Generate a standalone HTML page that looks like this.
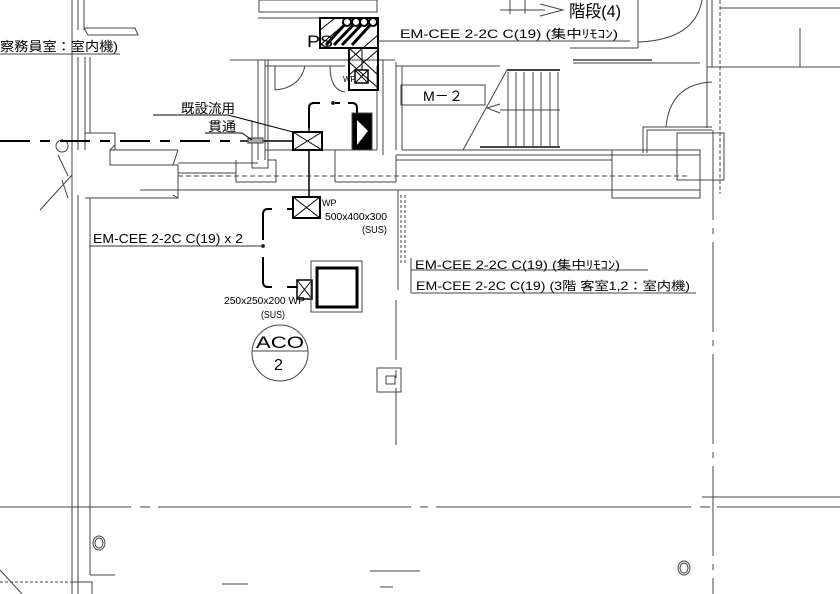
<!DOCTYPE html>
<html><head><meta charset="utf-8"><style>
html,body{margin:0;padding:0;background:#fff;}
svg{display:block;}
text{font-family:"Liberation Sans","Noto Sans CJK JP",sans-serif;fill:#000;}
</style></head><body>
<svg width="840" height="594" viewBox="0 0 840 594" xmlns="http://www.w3.org/2000/svg">
<g stroke="#444" stroke-width="1" fill="none">
<line x1="72" y1="0" x2="72" y2="594"/>
<line x1="78" y1="0" x2="78" y2="30"/>
<line x1="84" y1="0" x2="84" y2="30"/>
<line x1="72" y1="57" x2="72" y2="130"/>
<line x1="78" y1="57" x2="78" y2="150"/>
<line x1="85" y1="57" x2="85" y2="133"/>
<line x1="90" y1="57" x2="90" y2="133"/>
<line x1="78" y1="195" x2="78" y2="594"/>
<line x1="90" y1="198" x2="90" y2="575"/>
<line x1="90" y1="575" x2="115" y2="575"/>
<polyline points="84,28 135,28 138,35 88,35 84,28"/>
<polyline points="85,150 85,133 115,133 115,150 110,150 110,165 178,165 178,198 85,198"/>
<line x1="110" y1="150" x2="178" y2="150"/>
<line x1="110" y1="150" x2="115" y2="145"/>
<line x1="173" y1="165" x2="178" y2="150"/>
<line x1="173" y1="195" x2="178" y2="198"/>
<line x1="140" y1="190" x2="700" y2="190"/>
<line x1="178" y1="176" x2="690" y2="176" stroke-dasharray="5,3"/>
<line x1="178" y1="163" x2="258" y2="163"/>
<line x1="178" y1="173" x2="236" y2="173"/>
<line x1="40" y1="210" x2="72" y2="175"/>
<line x1="68" y1="176" x2="58" y2="155"/>
<line x1="62" y1="180" x2="68" y2="198"/>
<circle cx="62" cy="146" r="6"/>
<polyline points="236,160 236,182 276,182 276,160 268,160 268,168 252,168 252,160"/>
<line x1="252" y1="120" x2="252" y2="160"/>
<line x1="258" y1="60" x2="258" y2="160"/>
<line x1="265" y1="60" x2="265" y2="160"/>
<line x1="268" y1="60" x2="268" y2="160"/>
<rect x="259" y="0" width="118" height="12"/>
<line x1="258" y1="18" x2="320" y2="18"/>
<line x1="230" y1="60" x2="395" y2="60"/>
<line x1="265" y1="66" x2="345" y2="66"/>
<path d="M275,66 L275,90 Q300,88 305,66"/>
<path d="M330,66 Q330,90 345,92"/>
<line x1="265" y1="66" x2="265" y2="150"/>
<line x1="265" y1="150" x2="377" y2="150"/>
<line x1="377" y1="66" x2="377" y2="150"/>
<line x1="383" y1="60" x2="383" y2="155"/>
<line x1="335" y1="150" x2="335" y2="182"/>
<line x1="335" y1="182" x2="396" y2="182"/>
<line x1="396" y1="155" x2="396" y2="182"/>
<line x1="396" y1="62" x2="396" y2="150"/>
<line x1="402" y1="66" x2="402" y2="150"/>
<line x1="396" y1="155" x2="700" y2="155"/>
<line x1="402" y1="150" x2="612" y2="150"/>
<line x1="396" y1="160" x2="612" y2="160"/>
<line x1="396" y1="66" x2="500" y2="66"/>
<line x1="398" y1="190" x2="398" y2="290"/>
<line x1="401" y1="195" x2="401" y2="265" stroke-dasharray="3,2"/>
<line x1="405" y1="195" x2="405" y2="265" stroke-dasharray="3,2"/>
<line x1="396" y1="300" x2="396" y2="445" stroke-dasharray="60,10,8,10"/>
<rect x="401" y="85" width="84" height="20"/>
<line x1="463" y1="150" x2="507" y2="70"/>
<line x1="507" y1="70" x2="560" y2="70" stroke-width="2"/>
<line x1="480" y1="147" x2="560" y2="147" stroke-width="2"/>
<line x1="500" y1="110" x2="560" y2="110"/>
<g>
<line x1="508" y1="72" x2="508" y2="146"/><line x1="516" y1="72" x2="516" y2="146"/>
<line x1="524" y1="72" x2="524" y2="146"/><line x1="533" y1="72" x2="533" y2="146"/>
<line x1="541" y1="72" x2="541" y2="146"/><line x1="550" y1="72" x2="550" y2="146"/>
<line x1="558" y1="72" x2="558" y2="146"/>
</g>
<line x1="487" y1="108" x2="500" y2="104"/><line x1="487" y1="108" x2="500" y2="113"/>
<line x1="500" y1="10" x2="545" y2="10"/>
<polyline points="540,4 563,10 540,16"/>
<line x1="510" y1="0" x2="510" y2="14"/><line x1="525" y1="0" x2="525" y2="14"/>
<line x1="638" y1="0" x2="638" y2="48"/>
<line x1="570" y1="48" x2="638" y2="48"/>
<path d="M638,42 Q695,40 702,0"/>
<line x1="573" y1="60" x2="652" y2="60" stroke-width="1.5"/>
<line x1="573" y1="63" x2="700" y2="63"/>
<line x1="707" y1="0" x2="707" y2="128"/>
<line x1="712" y1="0" x2="712" y2="67"/>
<line x1="720" y1="0" x2="720" y2="194" stroke-dasharray="4,2"/>
<line x1="707" y1="67" x2="840" y2="67"/>
<line x1="720" y1="8" x2="840" y2="8"/>
<line x1="800" y1="28" x2="800" y2="67"/>
<path d="M666,127 Q670,84 712,82"/>
<polyline points="643,153 643,127 712,127"/>
<polyline points="647,153 647,130 712,130"/>
<rect x="612" y="150" width="88" height="48"/>
<rect x="677" y="133" width="47" height="47"/>
<line x1="713" y1="130" x2="713" y2="594" stroke-dasharray="90,8,6,8"/>
<line x1="702" y1="497" x2="840" y2="497"/>
<line x1="0" y1="141" x2="240" y2="141" stroke="#000" stroke-width="2" stroke-dasharray="30,10,10,10"/>
<line x1="240" y1="141" x2="293" y2="141" stroke="#000" stroke-width="1.5"/>
<rect x="248" y="138" width="15" height="5" fill="#aaa"/>
<line x1="0" y1="507" x2="131" y2="507"/>
<line x1="140" y1="507" x2="150" y2="507"/>
<line x1="158" y1="507" x2="411" y2="507"/>
<line x1="420" y1="507" x2="428" y2="507"/>
<line x1="436" y1="507" x2="691" y2="507"/>
<line x1="700" y1="507" x2="710" y2="507"/>
<line x1="717" y1="507" x2="840" y2="507"/>
<rect x="320" y="18" width="58" height="30" stroke="#000" stroke-width="2"/>
<rect x="349" y="48" width="29" height="42" stroke="#000" stroke-width="2"/>
<g stroke="#000">
<line x1="320" y1="30" x2="335" y2="18"/><line x1="320" y1="45" x2="352" y2="18"/>
<line x1="349" y1="60" x2="378" y2="35"/><line x1="349" y1="75" x2="378" y2="50"/>
<line x1="349" y1="48" x2="378" y2="75"/><line x1="349" y1="62" x2="378" y2="88"/>
</g>
<g stroke="#000" stroke-width="3">
<line x1="326" y1="45" x2="347" y2="22"/><line x1="334" y1="45" x2="356" y2="22"/>
<line x1="342" y1="45" x2="364" y2="22"/><line x1="352" y1="45" x2="373" y2="22"/>
</g>
<g fill="#fff" stroke="#000" stroke-width="2">
<circle cx="347" cy="22" r="4"/><circle cx="356" cy="22" r="4"/><circle cx="364" cy="22" r="4"/><circle cx="373" cy="22" r="4"/>
</g>
<rect x="355" y="70" width="13" height="13" stroke="#000" stroke-width="1.5"/>
<line x1="355" y1="70" x2="368" y2="83" stroke="#000"/><line x1="368" y1="70" x2="355" y2="83" stroke="#000"/>
<line x1="362" y1="50" x2="362" y2="70" stroke="#000"/>
<rect x="293" y="132" width="29" height="18" stroke="#000" stroke-width="2"/>
<line x1="293" y1="132" x2="322" y2="150" stroke="#000"/><line x1="322" y1="132" x2="293" y2="150" stroke="#000"/>
<line x1="309" y1="150" x2="309" y2="197" stroke="#000" stroke-width="1.5"/>
<line x1="309" y1="125" x2="309" y2="132" stroke="#000" stroke-width="1.5"/>
<path d="M309,128 L309,108 Q309,103 314,103 L320,103 M333,103 L340,103 M348,103 L352,103 Q357,103 357,108 L357,113" stroke="#000" stroke-width="2"/>
<circle cx="333" cy="103" r="1.5" fill="#000"/>
<line x1="153" y1="115" x2="228" y2="115" stroke="#000"/>
<line x1="228" y1="115" x2="293" y2="132" stroke="#000"/>
<line x1="205" y1="133" x2="242" y2="133" stroke="#000"/>
<line x1="242" y1="133" x2="252" y2="140" stroke="#000"/>
<rect x="352" y="113" width="20" height="37" fill="#000"/>
<polygon points="357,120 368,131 357,145" fill="#fff" stroke="none"/>
<rect x="293" y="197" width="27" height="21" stroke="#000" stroke-width="2"/>
<line x1="293" y1="197" x2="320" y2="218" stroke="#000"/><line x1="320" y1="197" x2="293" y2="218" stroke="#000"/>
<path d="M263,240 L263,214 Q263,209 268,209 L272,209 M287,209 L293,209" stroke="#000" stroke-width="2"/>
<path d="M263,257 L263,282 Q263,287 268,287 L272,287 M287,287 L297,287" stroke="#000" stroke-width="2"/>
<circle cx="263" cy="246" r="1.5" fill="#000"/>
<line x1="90" y1="246" x2="263" y2="246" stroke="#333"/>
<rect x="297" y="280" width="15" height="19" stroke="#000" stroke-width="1.5"/>
<line x1="297" y1="280" x2="312" y2="299" stroke="#000"/><line x1="312" y1="280" x2="297" y2="299" stroke="#000"/>
<rect x="311" y="261" width="51" height="51"/>
<rect x="317" y="268" width="40" height="39" stroke="#000" stroke-width="3"/>
<circle cx="280" cy="353" r="28"/>
<line x1="252" y1="351" x2="308" y2="351"/>
<line x1="411" y1="258" x2="411" y2="293"/>
<line x1="411" y1="270" x2="648" y2="270"/>
<line x1="411" y1="293" x2="696" y2="293"/>
<line x1="378" y1="41" x2="630" y2="41"/>
<line x1="0" y1="54" x2="120" y2="54"/>
<rect x="377" y="368" width="24" height="24"/>
<rect x="386" y="376" width="9" height="8"/>
<ellipse cx="99" cy="543" rx="6" ry="7"/><ellipse cx="99" cy="543" rx="4" ry="5"/>
<ellipse cx="684" cy="568" rx="6" ry="7"/><ellipse cx="684" cy="568" rx="4" ry="5"/>
<line x1="370" y1="571" x2="420" y2="571"/>
<line x1="380" y1="587" x2="393" y2="587"/>
<line x1="222" y1="584" x2="248" y2="584"/>
<line x1="0" y1="582" x2="72" y2="582" stroke-dasharray="3,2"/>
<line x1="0" y1="570" x2="22" y2="594"/>
<polyline points="72,582 92,582 92,594"/>
</g>
<text x="0" y="51" font-size="13" textLength="118" lengthAdjust="spacingAndGlyphs">察務員室：室内機)</text>
<text x="307" y="47" font-size="17" textLength="26" lengthAdjust="spacingAndGlyphs">PS</text>
<text x="343" y="82" font-size="8">WP</text>
<text x="181" y="113" font-size="13" textLength="54" lengthAdjust="spacingAndGlyphs">既設流用</text>
<text x="208" y="131" font-size="13" textLength="28" lengthAdjust="spacingAndGlyphs">貫通</text>
<text x="423" y="101" font-size="14" textLength="40" lengthAdjust="spacingAndGlyphs">M－２</text>
<text x="569" y="17" font-size="17" textLength="52" lengthAdjust="spacingAndGlyphs">階段(4)</text>
<text x="400" y="38" font-size="12" textLength="218" lengthAdjust="spacingAndGlyphs">EM-CEE 2-2C C(19)  (集中ﾘﾓｺﾝ)</text>
<text x="322" y="206" font-size="9">WP</text>
<text x="325" y="220" font-size="10" textLength="62" lengthAdjust="spacingAndGlyphs">500x400x300</text>
<text x="362" y="233" font-size="10" textLength="25" lengthAdjust="spacingAndGlyphs">(SUS)</text>
<text x="93" y="243" font-size="13" textLength="150" lengthAdjust="spacingAndGlyphs">EM-CEE 2-2C C(19) x 2</text>
<text x="224" y="304" font-size="10" textLength="81" lengthAdjust="spacingAndGlyphs">250x250x200 WP</text>
<text x="261" y="318" font-size="10" textLength="24" lengthAdjust="spacingAndGlyphs">(SUS)</text>
<text x="256" y="348" font-size="17" textLength="48" lengthAdjust="spacingAndGlyphs">ACO</text>
<text x="274" y="370" font-size="16">2</text>
<text x="415" y="269" font-size="12" textLength="205" lengthAdjust="spacingAndGlyphs">EM-CEE 2-2C C(19)  (集中ﾘﾓｺﾝ)</text>
<text x="416" y="290" font-size="12" textLength="274" lengthAdjust="spacingAndGlyphs">EM-CEE 2-2C C(19) (3階 客室1,2：室内機)</text>
</svg>
</body></html>
